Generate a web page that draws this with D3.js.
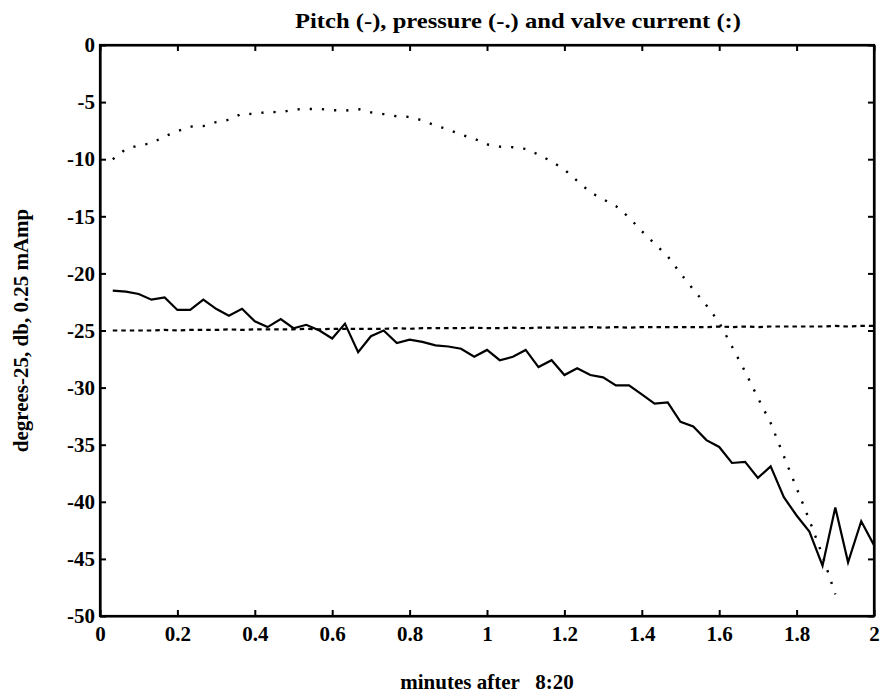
<!DOCTYPE html>
<html>
<head>
<meta charset="utf-8">
<script src="https://cdn.jsdelivr.net/npm/d3@7"></script>
<style>
  html, body { margin: 0; padding: 0; background: #fff; }
  svg { display: block; }
  text { font-family: "Liberation Serif", "DejaVu Serif", serif; font-weight: bold; fill: #000; }
</style>
</head>
<body>
<svg id="chart" width="882" height="694"></svg>
<script>
// Sample times (minutes after 8:20), one sample every 2 seconds
const sampleTimes = [
  0.033, 0.067, 0.100, 0.133, 0.167, 0.200, 0.233, 0.267, 0.300, 0.333,
  0.367, 0.400, 0.433, 0.467, 0.500, 0.533, 0.567, 0.600, 0.633, 0.667,
  0.700, 0.733, 0.767, 0.800, 0.833, 0.867, 0.900, 0.933, 0.967, 1.000,
  1.033, 1.067, 1.100, 1.133, 1.167, 1.200, 1.233, 1.267, 1.300, 1.333,
  1.367, 1.400, 1.433, 1.467, 1.500, 1.533, 1.567, 1.600, 1.633, 1.667,
  1.700, 1.733, 1.767, 1.800, 1.833, 1.867, 1.900, 1.933, 1.967, 2.000
];

// Pitch, degrees - 25 (solid)
const pitch = [
  -21.5, -21.6, -21.8, -22.3, -22.1, -23.2, -23.2, -22.3, -23.1, -23.7,
  -23.1, -24.2, -24.7, -24.0, -24.8, -24.5, -25.0, -25.7, -24.4, -26.9,
  -25.5, -25.0, -26.1, -25.8, -26.0, -26.3, -26.4, -26.6, -27.3, -26.7,
  -27.6, -27.3, -26.7, -28.2, -27.6, -28.9, -28.3, -28.9, -29.1, -29.8,
  -29.8, -30.6, -31.4, -31.3, -33.0, -33.4, -34.6, -35.2, -36.6, -36.5,
  -37.9, -36.9, -39.6, -41.2, -42.6, -45.6, -40.5, -45.3, -41.7, -43.8
];

// Pressure, db (dash-dot)
const pressure = [
  -25.0, -25.0, -25.0, -25.0, -24.95, -25.0, -24.95, -24.95, -24.95, -24.9,
  -24.95, -24.9, -24.9, -24.9, -24.9, -24.85, -24.9, -24.85, -24.85, -24.85,
  -24.85, -24.85, -24.8, -24.85, -24.8, -24.8, -24.8, -24.8, -24.75, -24.8,
  -24.8, -24.75, -24.8, -24.75, -24.75, -24.75, -24.75, -24.7, -24.75, -24.7,
  -24.75, -24.7, -24.7, -24.7, -24.7, -24.7, -24.7, -24.65, -24.7, -24.65,
  -24.7, -24.65, -24.65, -24.65, -24.65, -24.65, -24.6, -24.65, -24.6, -24.6
];

// Valve current, 0.25 mAmp (dotted)
const valveTimes = sampleTimes.slice(0, 57);
const valveCurrent = [
  -10.0, -9.1, -8.8, -8.6, -8.0, -7.55, -7.15, -7.1, -6.75, -6.55,
  -6.0, -6.05, -5.85, -5.9, -5.65, -5.6, -5.6, -5.7, -5.75, -5.6,
  -5.9, -6.05, -6.25, -6.3, -6.6, -7.05, -7.4, -7.85, -8.2, -8.7,
  -8.9, -8.95, -9.1, -9.6, -10.2, -10.9, -11.9, -12.9, -13.5, -14.1,
  -15.1, -16.3, -17.4, -18.5, -20.0, -21.4, -22.8, -24.3, -26.4, -28.6,
  -30.9, -33.1, -36.0, -38.8, -41.6, -44.7, -48.1
];

// Axis ticks
const xTicks = [0, 0.2, 0.4, 0.6, 0.8, 1, 1.2, 1.4, 1.6, 1.8, 2];
const xTickLabels = ["0", "0.2", "0.4", "0.6", "0.8", "1", "1.2", "1.4", "1.6", "1.8", "2"];
const yTicks = [0, -5, -10, -15, -20, -25, -30, -35, -40, -45, -50];
const yTickLabels = ["0", "-5", "-10", "-15", "-20", "-25", "-30", "-35", "-40", "-45", "-50"];

const titleText = "Pitch (-), pressure (-.) and valve current (:)";
const xLabelText = "minutes after   8:20";
const yLabelText = "degrees-25, db, 0.25 mAmp";

const svg = d3.select("#chart");
const margin = { left: 100, right: 8, top: 45, bottom: 78 };
const W = 882, H = 694;
const x = d3.scaleLinear().domain([0, 2]).range([margin.left, W - margin.right]);
const y = d3.scaleLinear().domain([-50, 0]).range([H - margin.bottom, margin.top]);

svg.append("defs").append("clipPath").attr("id", "plotClip")
  .append("rect")
  .attr("x", x(0)).attr("y", y(0))
  .attr("width", x(2) - x(0)).attr("height", y(-50) - y(0));

const plot = svg.append("g").attr("clip-path", "url(#plotClip)");

const line = d3.line().x(d => x(d[0])).y(d => y(d[1]));

// valve current, dotted
plot.append("path")
  .datum(d3.zip(valveTimes, valveCurrent))
  .attr("d", line)
  .attr("fill", "none").attr("stroke", "#000")
  .attr("stroke-width", 2.4)
  .attr("stroke-linecap", "butt")
  .attr("stroke-dasharray", "2.2,10");

// pressure, dashed
plot.append("path")
  .datum(d3.zip(sampleTimes, pressure))
  .attr("d", line)
  .attr("fill", "none").attr("stroke", "#000")
  .attr("stroke-width", 2.2)
  .attr("stroke-dasharray", "4.5,4");

// pitch, solid
plot.append("path")
  .datum(d3.zip(sampleTimes, pitch))
  .attr("d", line)
  .attr("fill", "none").attr("stroke", "#000")
  .attr("stroke-width", 2.2)
  .attr("stroke-linejoin", "miter");

// axes with inward ticks on all four sides
const tickLen = 6;
const fmtX = (d, i) => xTickLabels[i];
const fmtY = (d, i) => yTickLabels[i];

const bottomAxis = svg.append("g")
  .attr("transform", `translate(0,${y(-50)})`)
  .call(d3.axisBottom(x).tickValues(xTicks).tickFormat(fmtX).tickSizeInner(-tickLen).tickSizeOuter(0).tickPadding(10));
const topAxis = svg.append("g")
  .attr("transform", `translate(0,${y(0)})`)
  .call(d3.axisTop(x).tickValues(xTicks).tickFormat("").tickSizeInner(-tickLen).tickSizeOuter(0));
const leftAxis = svg.append("g")
  .attr("transform", `translate(${x(0)},0)`)
  .call(d3.axisLeft(y).tickValues(yTicks).tickFormat(fmtY).tickSizeInner(-tickLen).tickSizeOuter(0).tickPadding(5));
const rightAxis = svg.append("g")
  .attr("transform", `translate(${x(2)},0)`)
  .call(d3.axisRight(y).tickValues(yTicks).tickFormat("").tickSizeInner(-tickLen).tickSizeOuter(0));

[bottomAxis, topAxis, leftAxis, rightAxis].forEach(g => {
  g.select(".domain").attr("stroke", "#000").attr("stroke-width", 2.2);
  g.selectAll(".tick line").attr("stroke", "#000").attr("stroke-width", 2);
  g.selectAll(".tick text")
    .style("font-family", '"Liberation Serif", serif')
    .style("font-weight", "bold")
    .style("font-size", "21px")
    .attr("fill", "#000");
});
// frame drawn as one rectangle so the corners join
svg.append("rect")
  .attr("x", x(0)).attr("y", y(0))
  .attr("width", x(2) - x(0)).attr("height", y(-50) - y(0))
  .attr("fill", "none").attr("stroke", "#000").attr("stroke-width", 2.2);

// title and axis labels
svg.append("text")
  .attr("x", 518).attr("y", 28)
  .attr("text-anchor", "middle")
  .attr("textLength", 446)
  .attr("lengthAdjust", "spacingAndGlyphs")
  .style("font-size", "21px")
  .text(titleText);

svg.append("text")
  .attr("x", (x(0) + x(2)) / 2).attr("y", 689)
  .attr("text-anchor", "middle")
  .attr("xml:space", "preserve")
  .style("white-space", "pre")
  .style("font-size", "21px")
  .text(xLabelText);

svg.append("text")
  .attr("transform", `translate(28,${(y(0) + y(-50)) / 2}) rotate(-90)`)
  .attr("text-anchor", "middle")
  .style("font-size", "21px")
  .text(yLabelText);
</script>
</body>
</html>
